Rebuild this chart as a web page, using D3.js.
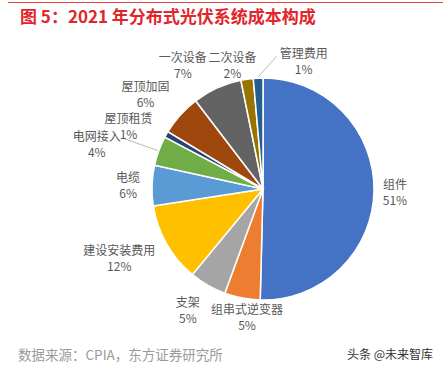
<!DOCTYPE html>
<html>
<head>
<meta charset="utf-8">
<script src="https://cdn.jsdelivr.net/npm/d3@7"></script>
<style>
  body { margin: 0; background: #fff; }
  text { font-family: "Noto Sans CJK SC", "Noto Sans", sans-serif; }
</style>
</head>
<body>
<div id="chart"></div>
<script>
const width = 443, height = 371;

// data (shares in %)
const categories = ["组件", "组串式逆变器", "支架", "建设安装费用", "电缆", "电网接入",
  "屋顶租赁", "屋顶加固", "一次设备", "二次设备", "管理费用"];
const values = [50.5, 5.2, 5.4, 11.6, 5.9, 4.3, 0.9, 6.0, 7.2, 1.8, 1.4];
const colors = ["#4472C4", "#ED7D31", "#A5A5A5", "#FFC000", "#5B9BD5", "#70AD47",
  "#264478", "#9E480E", "#636363", "#997300", "#255E91"];

// manual label nudges (Excel "best fit" placement)
const nudge = {
  "组件": [1, 2], "组串式逆变器": [13, -4], "支架": [-10, 5], "建设安装费用": [-9, 3],
  "电缆": [-4, 1], "电网接入": [-32, 2], "屋顶租赁": [-10, 4], "屋顶加固": [-11, -4],
  "一次设备": [-21, 0], "二次设备": [-10, 11], "管理费用": [47, 8]
};
const leaders = ["电网接入", "管理费用"];

const svg = d3.select("#chart").append("svg")
  .attr("width", width)
  .attr("height", height);

// top rule + title
svg.append("line")
  .attr("x1", 8).attr("x2", width).attr("y1", 2.5).attr("y2", 2.5)
  .attr("stroke", "#E8413E").attr("stroke-width", 1);

svg.append("text")
  .attr("x", 20).attr("y", 23)
  .attr("fill", "#E1262B")
  .attr("font-size", "17px")
  .attr("font-weight", "bold")
  .text("图 5：2021 年分布式光伏系统成本构成");

const cx = 263, cy = 189, r = 111;
const g = svg.append("g").attr("transform", "translate(" + cx + "," + cy + ")");

const data = categories.map((c, i) => ({ name: c, value: values[i], color: colors[i] }));

const pie = d3.pie().sort(null).value(d => d.value);
const arc = d3.arc().innerRadius(0).outerRadius(r);
const arcs = pie(data);

g.selectAll("path.slice")
  .data(arcs)
  .enter()
  .append("path")
  .attr("class", "slice")
  .attr("d", arc)
  .attr("fill", d => d.data.color)
  .attr("stroke", "#fff")
  .attr("stroke-width", 1.5);

// labels: name and percent as two separate texts
const labelR = r + 8, halfH = 16, charW = 12;
arcs.forEach(function (d) {
  const a = (d.startAngle + d.endAngle) / 2;
  const halfW = d.data.name.length * charW / 2;
  const n = nudge[d.data.name] || [0, 0];
  const x = Math.sin(a) * labelR + Math.sin(a) * halfW + n[0];
  const y = -Math.cos(a) * labelR - Math.cos(a) * halfH + n[1];

  g.append("text")
    .attr("x", x).attr("y", y - 4)
    .attr("text-anchor", "middle")
    .attr("fill", "#595959")
    .attr("font-size", "12px")
    .text(d.data.name);
  g.append("text")
    .attr("x", x).attr("y", y + 12)
    .attr("text-anchor", "middle")
    .attr("fill", "#595959")
    .attr("font-size", "12px")
    .text(Math.round(d.data.value) + "%");

  if (leaders.includes(d.data.name)) {
    const ex = Math.sin(a) * (r + 1), ey = -Math.cos(a) * (r + 1);
    const lx = x + (ex > x ? halfW + 3 : -halfW - 3);
    g.append("polyline")
      .attr("points", [[lx, y - 6], [ex, ey]].map(p => p.join(",")).join(" "))
      .attr("fill", "none")
      .attr("stroke", "#A6A6A6")
      .attr("stroke-width", 0.8);
  }
});

// footer
svg.append("text")
  .attr("x", 18).attr("y", 360)
  .attr("fill", "#9A9A9A")
  .attr("font-size", "13.5px")
  .text("数据来源：CPIA，东方证券研究所");

svg.append("text")
  .attr("x", 433).attr("y", 359)
  .attr("text-anchor", "end")
  .attr("fill", "#333")
  .attr("font-size", "12px")
  .text("头条 @未来智库");
</script>
</body>
</html>
